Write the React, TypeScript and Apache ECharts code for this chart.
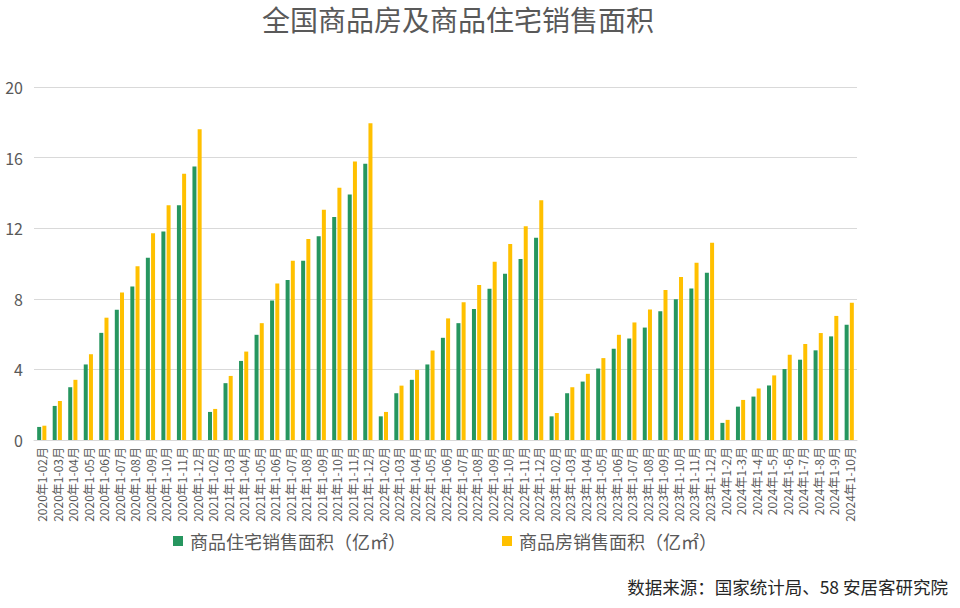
import React, { useEffect, useRef } from "react";
import * as echarts from "echarts";

const categories = [
  "2020年1-02月", "2020年1-03月", "2020年1-04月", "2020年1-05月", "2020年1-06月", "2020年1-07月",
  "2020年1-08月", "2020年1-09月", "2020年1-10月", "2020年1-11月", "2020年1-12月",
  "2021年1-02月", "2021年1-03月", "2021年1-04月", "2021年1-05月", "2021年1-06月", "2021年1-07月",
  "2021年1-08月", "2021年1-09月", "2021年1-10月", "2021年1-11月", "2021年1-12月",
  "2022年1-02月", "2022年1-03月", "2022年1-04月", "2022年1-05月", "2022年1-06月", "2022年1-07月",
  "2022年1-08月", "2022年1-09月", "2022年1-10月", "2022年1-11月", "2022年1-12月",
  "2023年1-02月", "2023年1-03月", "2023年1-04月", "2023年1-05月", "2023年1-06月", "2023年1-07月",
  "2023年1-08月", "2023年1-09月", "2023年1-10月", "2023年1-11月", "2023年1-12月",
  "2024年1-2月", "2024年1-3月", "2024年1-4月", "2024年1-5月", "2024年1-6月", "2024年1-7月",
  "2024年1-8月", "2024年1-9月", "2024年1-10月",
];

const residential = [
  0.74, 1.93, 2.99, 4.28, 6.07, 7.38, 8.7, 10.33, 11.81, 13.3, 15.49,
  1.59, 3.22, 4.48, 5.96, 7.91, 9.06, 10.16, 11.54, 12.64, 13.91, 15.65,
  1.34, 2.65, 3.41, 4.28, 5.79, 6.62, 7.42, 8.57, 9.42, 10.26, 11.46,
  1.34, 2.65, 3.31, 4.05, 5.17, 5.75, 6.37, 7.29, 7.97, 8.58, 9.48,
  0.97, 1.89, 2.46, 3.09, 4.02, 4.55, 5.08, 5.87, 6.53,
];

const commodity = [
  0.81, 2.21, 3.41, 4.86, 6.93, 8.36, 9.84, 11.71, 13.3, 15.08, 17.61,
  1.76, 3.63, 5.01, 6.62, 8.87, 10.16, 11.39, 13.04, 14.29, 15.78, 17.94,
  1.59, 3.08, 3.97, 5.07, 6.89, 7.81, 8.78, 10.1, 11.11, 12.11, 13.58,
  1.53, 2.99, 3.75, 4.64, 5.96, 6.66, 7.39, 8.5, 9.24, 10.04, 11.17,
  1.14, 2.27, 2.92, 3.66, 4.83, 5.44, 6.06, 7.03, 7.77,
];

const yTicks = [0, 4, 8, 12, 16, 20];

const seriesNames = ["商品住宅销售面积（亿㎡）", "商品房销售面积（亿㎡）"];
const titleText = "全国商品房及商品住宅销售面积";
const sourceText = "数据来源：国家统计局、58 安居客研究院";

const FONT = '"Noto Sans CJK SC", "Noto Sans", sans-serif';

export default function App() {
  const ref = useRef<HTMLDivElement>(null);
  useEffect(() => {
    if (!ref.current) return;
    const chart = echarts.init(ref.current, undefined, { renderer: "svg" });
    chart.setOption({
      animation: false,
      backgroundColor: "#ffffff",
      textStyle: { fontFamily: FONT },
      title: {
        text: titleText,
        left: 262,
        top: 5,
        padding: 0,
        textStyle: { fontSize: 28, fontWeight: "normal", color: "#595959", fontFamily: FONT },
      },
      legend: {
        left: 173,
        top: 532,
        itemWidth: 10,
        itemHeight: 10,
        itemGap: 96,
        padding: 0,
        icon: "rect",
        textStyle: { fontSize: 18, color: "#595959", fontFamily: FONT, padding: [0, 0, 0, 2] },
        data: seriesNames,
      },
      grid: { left: 34, right: 103, top: 87, bottom: 168, containLabel: false },
      xAxis: {
        type: "category",
        data: categories,
        axisLine: { show: true, lineStyle: { color: "#d9d9d9" } },
        axisTick: { show: false },
        axisLabel: {
          interval: 0,
          rotate: 90,
          fontSize: 12,
          color: "#595959",
          margin: 7,
          fontFamily: FONT,
        },
      },
      yAxis: {
        type: "value",
        min: yTicks[0],
        max: yTicks[yTicks.length - 1],
        interval: yTicks[1] - yTicks[0],
        axisLine: { show: false },
        axisTick: { show: false },
        axisLabel: { fontSize: 16, color: "#595959", margin: 11, fontFamily: FONT },
        splitLine: { lineStyle: { color: "#d9d9d9", width: 1 } },
      },
      series: [
        {
          name: seriesNames[0],
          type: "bar",
          data: residential,
          barWidth: 4,
          barGap: "30%",
          itemStyle: { color: "#26965F" },
        },
        {
          name: seriesNames[1],
          type: "bar",
          data: commodity,
          barWidth: 4,
          barGap: "30%",
          itemStyle: { color: "#FFC000" },
        },
      ],
      graphic: [
        {
          type: "text",
          right: 12,
          top: 578,
          style: {
            text: sourceText,
            fontSize: 17.5,
            fill: "#262626",
            fontFamily: FONT,
          },
        },
      ],
    });
    return () => chart.dispose();
  }, []);
  return (
    <div
      ref={ref}
      style={{ position: "fixed", left: 0, top: 0, width: 960, height: 608 }}
    />
  );
}
